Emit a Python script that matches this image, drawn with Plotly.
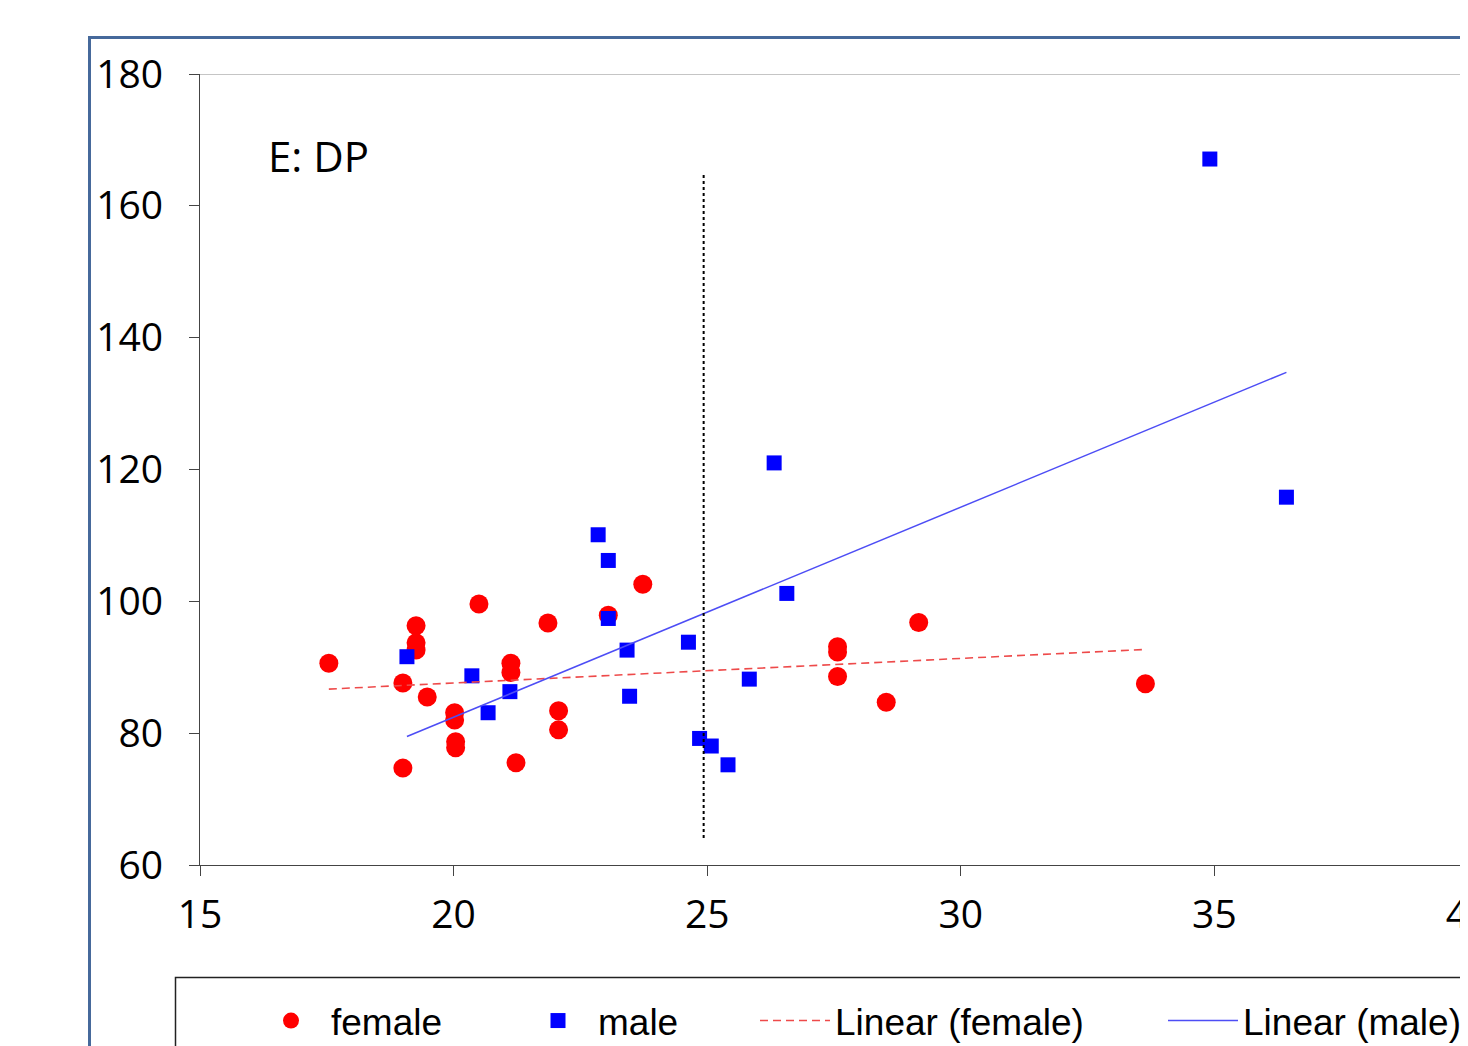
import numpy as np
import plotly.graph_objects as go

# ---- data ----
female_x = [17.54, 19.0, 19.0, 19.26, 19.26, 19.26, 19.48, 20.02, 20.02, 20.04, 20.04, 20.5,
            21.13, 21.13, 21.23, 21.86, 22.07, 22.07, 23.05, 23.73, 27.57, 27.57, 27.57,
            28.53, 29.17, 33.64]
female_y = [90.6, 87.6, 74.7, 96.3, 93.7, 92.6, 85.5, 83.1, 82.0, 78.7, 77.8, 99.6,
            90.6, 89.2, 75.5, 96.7, 83.4, 80.5, 97.9, 102.6, 93.1, 92.3, 88.6,
            84.7, 96.8, 87.5]
male_x = [19.08, 20.36, 20.68, 21.11, 22.85, 23.05, 23.05, 23.42, 23.47, 24.63, 24.85,
          25.08, 25.41, 25.83, 26.32, 26.57, 34.91, 36.42]
male_y = [91.6, 88.7, 83.1, 86.3, 110.1, 106.2, 97.4, 92.6, 85.6, 93.8, 79.2,
          78.05, 75.2, 88.2, 121.0, 101.2, 167.1, 115.8]
x_ticks = [15, 20, 25, 30, 35, 40]
y_ticks = [60, 80, 100, 120, 140, 160, 180]
cutoff_x = 24.93
cutoff_y = [64.1, 165.0]
panel_label = "E: DP"

# ---- geometry (screen pixels; page has an 8px body margin) ----
OFF = 8
SW, SH = 1468, 1046
W, H = SW, SH - OFF
PL, PT, PB = 200, 74, 865            # plot area left / top / bottom on screen
L, T, B = PL - OFF, PT - OFF, SH - PB
R = W - (SW - OFF)                   # plot area ends at the screen's right edge
PW, PH = SW - PL, PB - PT


def px(xs):
    return (xs - PL) / PW


def py(ys):
    return (PB - ys) / PH


def fit_line(xs, ys):
    k, b = np.polyfit(xs, ys, 1)
    xx = [min(xs), max(xs)]
    return xx, [k * v + b for v in xx]


fx, fy = fit_line(female_x, female_y)
mx, my = fit_line(male_x, male_y)

fig = go.Figure()
fig.add_trace(go.Scatter(x=female_x, y=female_y, mode="markers", name="female", legend="legend",
                         marker=dict(symbol="circle", size=19, color="#ff0000", line=dict(width=0))))
fig.add_trace(go.Scatter(x=male_x, y=male_y, mode="markers", name="male", legend="legend2",
                         marker=dict(symbol="square", size=15, color="#0000ff", line=dict(width=0))))
fig.add_trace(go.Scatter(x=fx, y=fy, mode="lines", name="Linear (female)", legend="legend3",
                         line=dict(color="#ee4a4a", width=1.6, dash="8px,5px")))
fig.add_trace(go.Scatter(x=mx, y=my, mode="lines", name="Linear (male)", legend="legend4",
                         line=dict(color="#4d4df5", width=1.5)))

shapes = [
    dict(type="rect", xref="paper", yref="paper", x0=px(89.5), y0=py(37.5), x1=px(1700), y1=py(1300),
         line=dict(color="#46699b", width=3), layer="below"),
    dict(type="line", xref="x", yref="y", x0=15, x1=40, y0=180, y1=180,
         line=dict(color="#8c8c8c", width=1.2)),
    dict(type="line", xref="x", yref="y", x0=cutoff_x, x1=cutoff_x, y0=cutoff_y[0], y1=cutoff_y[1],
         line=dict(color="black", width=2, dash="dot")),
    dict(type="rect", xref="paper", yref="paper", x0=px(175.5), y0=py(977.5), x1=px(1700), y1=py(1300),
         line=dict(color="#222222", width=1.5)),
]

legend_font = dict(family="Liberation Sans, Arial, sans-serif", size=37, color="black")


def leg(xs):
    return dict(orientation="h", x=px(xs), xanchor="left", y=py(990), yanchor="top",
                bgcolor="rgba(0,0,0,0)", borderwidth=0, font=legend_font,
                itemwidth=70, itemsizing="trace")


fig.update_layout(
    width=W, height=H,
    margin=dict(l=L, r=R, t=T, b=B, autoexpand=False),
    paper_bgcolor="white", plot_bgcolor="white",
    shapes=shapes,
    showlegend=True,
    legend=leg(251), legend2=leg(518), legend3=leg(755), legend4=leg(1163),
    annotations=[dict(text=panel_label, xref="paper", yref="paper", x=px(266), y=py(156),
                      xanchor="left", yanchor="middle", showarrow=False,
                      font=dict(family="Open Sans, sans-serif", size=42, color="black"))],
    xaxis=dict(range=[15, 40], tickvals=x_ticks, ticktext=[str(v) for v in x_ticks],
               showgrid=False, zeroline=False, showline=True, linecolor="#444444", linewidth=1.2,
               ticks="outside", ticklen=10, tickcolor="#444444", tickwidth=1.2,
               ticklabelstandoff=5, ticklabeloverflow="allow",
               tickfont=dict(family="Open Sans, sans-serif", size=39, color="black")),
    yaxis=dict(range=[60, 180], tickvals=y_ticks, ticktext=[str(v) for v in y_ticks],
               showgrid=False, zeroline=False, showline=True, linecolor="#444444", linewidth=1.2,
               ticks="outside", ticklen=10, tickcolor="#444444", tickwidth=1.2,
               ticklabelstandoff=18, ticklabeloverflow="allow",
               tickfont=dict(family="Open Sans, sans-serif", size=39, color="black")),
)

fig.write_html(
    "out.html",
    post_script="document.documentElement.style.overflow='hidden';document.body.style.overflow='hidden';",
)
